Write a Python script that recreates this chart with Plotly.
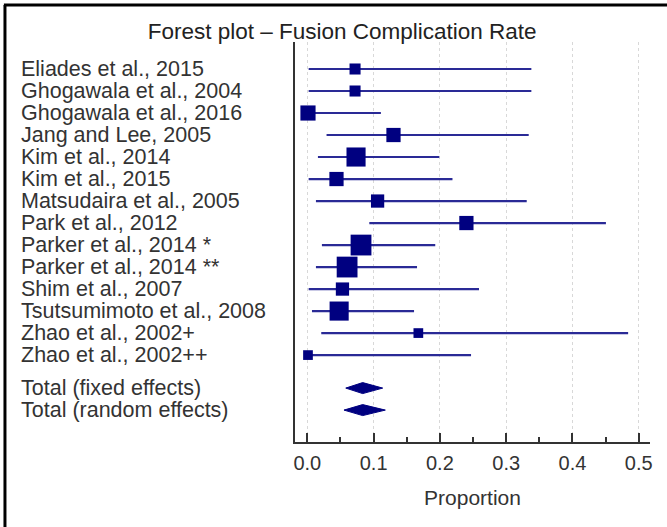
import plotly.graph_objects as go

studies = [
    "Eliades et al., 2015",
    "Ghogawala et al., 2004",
    "Ghogawala et al., 2016",
    "Jang and Lee, 2005",
    "Kim et al., 2014",
    "Kim et al., 2015",
    "Matsudaira et al., 2005",
    "Park et al., 2012",
    "Parker et al., 2014 *",
    "Parker et al., 2014 **",
    "Shim et al., 2007",
    "Tsutsumimoto et al., 2008",
    "Zhao et al., 2002+",
    "Zhao et al., 2002++",
]
proportion = [0.072, 0.072, 0.001, 0.130, 0.0735, 0.044, 0.106, 0.240, 0.081, 0.060, 0.053, 0.048, 0.1675, 0.001]
ci_low = [0.002, 0.002, 0.0, 0.029, 0.016, 0.002, 0.013, 0.0935, 0.022, 0.013, 0.002, 0.007, 0.021, 0.0]
ci_high = [0.338, 0.338, 0.111, 0.334, 0.199, 0.219, 0.331, 0.4505, 0.193, 0.1655, 0.259, 0.161, 0.484, 0.247]
weights = [4.5, 4.5, 8.5, 7.5, 13.5, 7.5, 6.5, 7.5, 16, 16, 6.5, 13.5, 3.5, 3.5]

totals = ["Total (fixed effects)", "Total (random effects)"]
total_est = [0.0835, 0.0835]
total_low = [0.058, 0.0553]
total_high = [0.1137, 0.1177]

x_ticks = [0.0, 0.1, 0.2, 0.3, 0.4, 0.5]
x_ticktext = ["0.0", "0.1", "0.2", "0.3", "0.4", "0.5"]

NAVY = "#000080"
LINE = "#2a2a96"
FONT = "Liberation Sans, Arial, sans-serif"

study_rows = list(range(len(studies)))
total_rows = [len(studies) + 0.5, len(studies) + 1.5]

fig = go.Figure()

# CI lines
for r, lo, hi in zip(study_rows, ci_low, ci_high):
    fig.add_trace(go.Scatter(x=[lo, hi], y=[r, r], mode="lines",
                             line=dict(color=LINE, width=2.2),
                             hoverinfo="skip", showlegend=False))

# squares
fig.add_trace(go.Scatter(
    x=proportion, y=study_rows, mode="markers",
    marker=dict(symbol="square", color=NAVY, opacity=1,
                size=[5.2 * w ** 0.5 for w in weights],
                line=dict(width=0)),
    showlegend=False))

# diamonds
h = 0.25
for r, lo, est, hi in zip(total_rows, total_low, total_est, total_high):
    fig.add_trace(go.Scatter(
        x=[lo, est, hi, est, lo], y=[r, r - h, r, r + h, r],
        mode="lines", fill="toself", fillcolor=NAVY,
        line=dict(color=NAVY, width=1), showlegend=False, hoverinfo="skip"))

# labels
for r, name in zip(study_rows + total_rows, studies + totals):
    fig.add_annotation(x=-0.777, xref="paper", y=r, yref="y", text=name,
                       showarrow=False, xanchor="left", yanchor="middle",
                       font=dict(family=FONT, size=21.5, color="#333333"))

# frame (left and top)
fig.add_shape(type="line", xref="paper", yref="paper",
              x0=-0.817, x1=-0.817, y0=1.0925, y1=-0.22,
              line=dict(color="black", width=3))
fig.add_shape(type="line", xref="paper", yref="paper",
              x0=-0.82, x1=1.06, y0=1.0925, y1=1.0925,
              line=dict(color="black", width=3))

fig.update_layout(
    width=667, height=527,
    margin=dict(l=295, r=17, t=42, b=85),
    paper_bgcolor="white", plot_bgcolor="white",
    font=dict(family=FONT, color="#333333"),
    title=dict(text="Forest plot – Fusion Complication Rate",
               x=0.513, xanchor="center", y=0.941, yanchor="middle",
               font=dict(family=FONT, size=22.5, color="#222222")),
    xaxis=dict(range=[-0.0186, 0.517], tickvals=x_ticks, ticktext=x_ticktext,
               showgrid=True, gridcolor="#d8d8d8", griddash="dot", gridwidth=1,
               zeroline=False, showline=True, linecolor="#333333", linewidth=2,
               ticks="inside", ticklen=9, tickwidth=1.5, tickcolor="#333333",
               ticklabelstandoff=2,
               tickfont=dict(family=FONT, size=20, color="#333333"),
               minor=dict(dtick=0.05, tick0=0, ticks="inside", ticklen=5,
                          tickwidth=1.5, tickcolor="#333333", showgrid=False),
               title=dict(text="Proportion", standoff=17,
                          font=dict(family=FONT, size=21, color="#333333"))),
    yaxis=dict(range=[16.95, -1.227], showticklabels=False, ticks="",
               showgrid=False, zeroline=False, showline=True,
               linecolor="#333333", linewidth=2),
)

fig.write_html("out.html", config={"displayModeBar": False},
               post_script="document.body.style.margin='0px';document.body.style.overflow='hidden';")
